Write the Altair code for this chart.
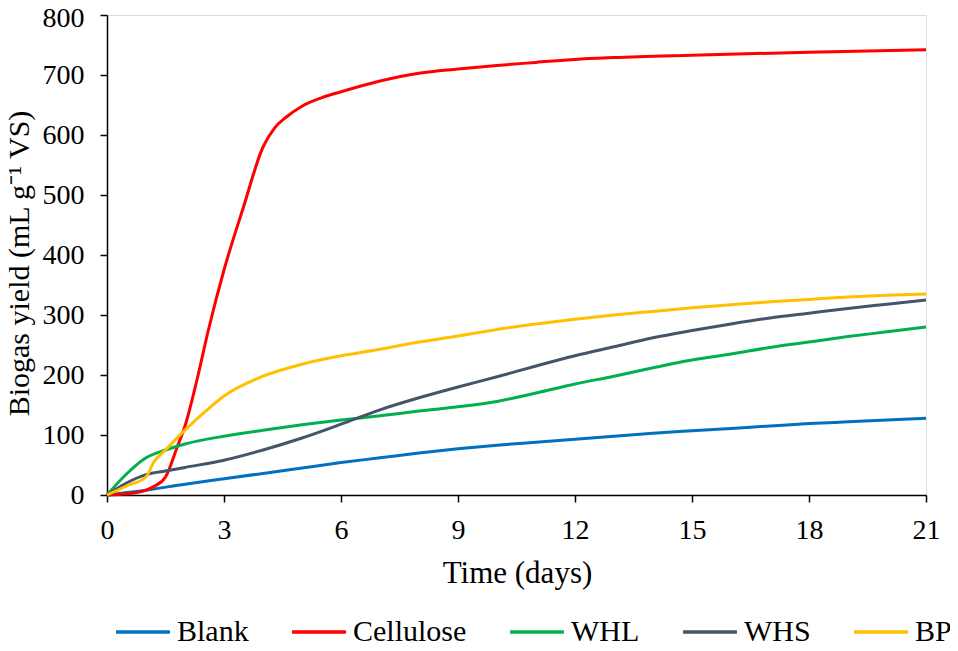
import altair as alt
import pandas as pd

series_names = ["Blank", "Cellulose", "WHL", "WHS", "BP"]
colors = ["#0070C0", "#FF0000", "#00B050", "#44546A", "#FFC000"]

blank_t = [0, 1, 2, 3, 4, 5, 6, 7, 8, 9, 10, 11, 12, 13, 14, 15, 16, 17, 18, 19, 20, 21]
blank_y = [0, 8, 18, 27, 36, 45, 54, 62, 70, 77, 83, 88, 93, 98, 103, 107, 111, 115, 119, 122, 125, 128]

cell_t = [0, 0.5, 0.9, 1.2, 1.5, 1.8, 2.0, 2.3, 2.6, 3.0, 3.5, 4.0, 4.3, 4.6, 5.0, 5.5, 6, 7, 8, 9, 10, 11, 12, 13, 15, 18, 21]
cell_y = [0, 2, 6, 14, 30, 80, 115, 190, 275, 375, 480, 580, 612, 630, 648, 662, 672, 690, 703, 710, 716, 721, 726, 729, 733, 738, 742]

whl_t = [0, 0.5, 1.0, 1.5, 2, 3, 4, 5, 6, 7, 8, 9, 10, 11, 12, 13, 14, 15, 16, 17, 18, 19, 20, 21]
whl_y = [0, 35, 62, 75, 85, 98, 108, 117, 125, 132, 140, 147, 156, 170, 185, 198, 212, 225, 235, 246, 255, 264, 272, 280]

whs_t = [0, 0.5, 1.0, 1.5, 2, 3, 4, 5, 6, 7, 8, 9, 10, 11, 12, 13, 14, 15, 16, 17, 18, 19, 20, 21]
whs_y = [0, 20, 34, 40, 46, 58, 75, 95, 118, 142, 162, 180, 197, 215, 232, 247, 262, 274, 285, 295, 303, 311, 318, 325]

bp_t = [0, 0.5, 1.0, 1.2, 1.5, 2, 2.5, 3, 4, 5, 6, 7, 8, 9, 10, 11, 12, 13, 14, 15, 16, 17, 18, 19, 20, 21]
bp_y = [0, 15, 30, 55, 75, 108, 138, 165, 198, 218, 232, 243, 255, 265, 276, 285, 293, 300, 306, 312, 317, 322, 326, 330, 333, 335]

x_ticks = [0, 3, 6, 9, 12, 15, 18, 21]
y_ticks = [0, 100, 200, 300, 400, 500, 600, 700, 800]

rows = []
for name, ts, ys in [("Blank", blank_t, blank_y), ("Cellulose", cell_t, cell_y),
                     ("WHL", whl_t, whl_y), ("WHS", whs_t, whs_y), ("BP", bp_t, bp_y)]:
    for i, (t, y) in enumerate(zip(ts, ys)):
        rows.append({"series": name, "t": t, "y": y, "order": i})
df = pd.DataFrame(rows)

font = "Liberation Serif, Times New Roman, serif"

chart = alt.Chart(df).mark_line(strokeWidth=3, interpolate="monotone").encode(
    x=alt.X("t:Q", scale=alt.Scale(domain=[0, 21], nice=False),
            axis=alt.Axis(title="Time (days)", values=x_ticks, grid=False,
                          tickSize=7, labelPadding=36, labelBaseline="alphabetic",
                          labelFlush=False,
                          titleX=410, titleY=87, titleBaseline="alphabetic", titleAlign="center",
                          domainColor="black", tickColor="black", domainWidth=1.5, tickWidth=1.5,
                          labelFontSize=28, titleFontSize=31, labelFont=font, titleFont=font,
                          labelColor="black", titleColor="black", titleFontWeight="normal")),
    y=alt.Y("y:Q", scale=alt.Scale(domain=[0, 800], nice=False),
            axis=alt.Axis(title="Biogas yield (mL g⁻¹ VS)", values=y_ticks, grid=False,
                          tickSize=7, labelPadding=16, labelFlush=False,
                          labelOffset={"condition": {"test": "datum.value === 800", "value": 3}, "value": 0},
                          titleX=-79, titleY=248, titleAngle=270, titleBaseline="alphabetic",
                          titleAlign="center",
                          domainColor="black", tickColor="black", domainWidth=1.5, tickWidth=1.5,
                          labelFontSize=28, titleFontSize=30, labelFont=font, titleFont=font,
                          labelColor="black", titleColor="black", titleFontWeight="normal")),
    color=alt.Color("series:N", scale=alt.Scale(domain=series_names, range=colors),
                    legend=alt.Legend(title=None, orient="none", direction="horizontal",
                                      legendX=7, legendY=588, padding=0,
                                      symbolType="stroke", symbolSize=2900, symbolStrokeWidth=3.5,
                                      labelFont=font, labelFontSize=30, labelColor="black",
                                      columnPadding=36, labelOffset=5, symbolOffset=0)),
    order="order:Q",
    detail="series:N",
).properties(
    width=819, height=480,
    padding={"left": 99, "top": 7, "right": 24, "bottom": 148},
    autosize=alt.AutoSizeParams(type="none"),
).configure_view(stroke=None).configure(background="white")

chart.save("out.html", embed_options={"renderer": "svg", "actions": False})
